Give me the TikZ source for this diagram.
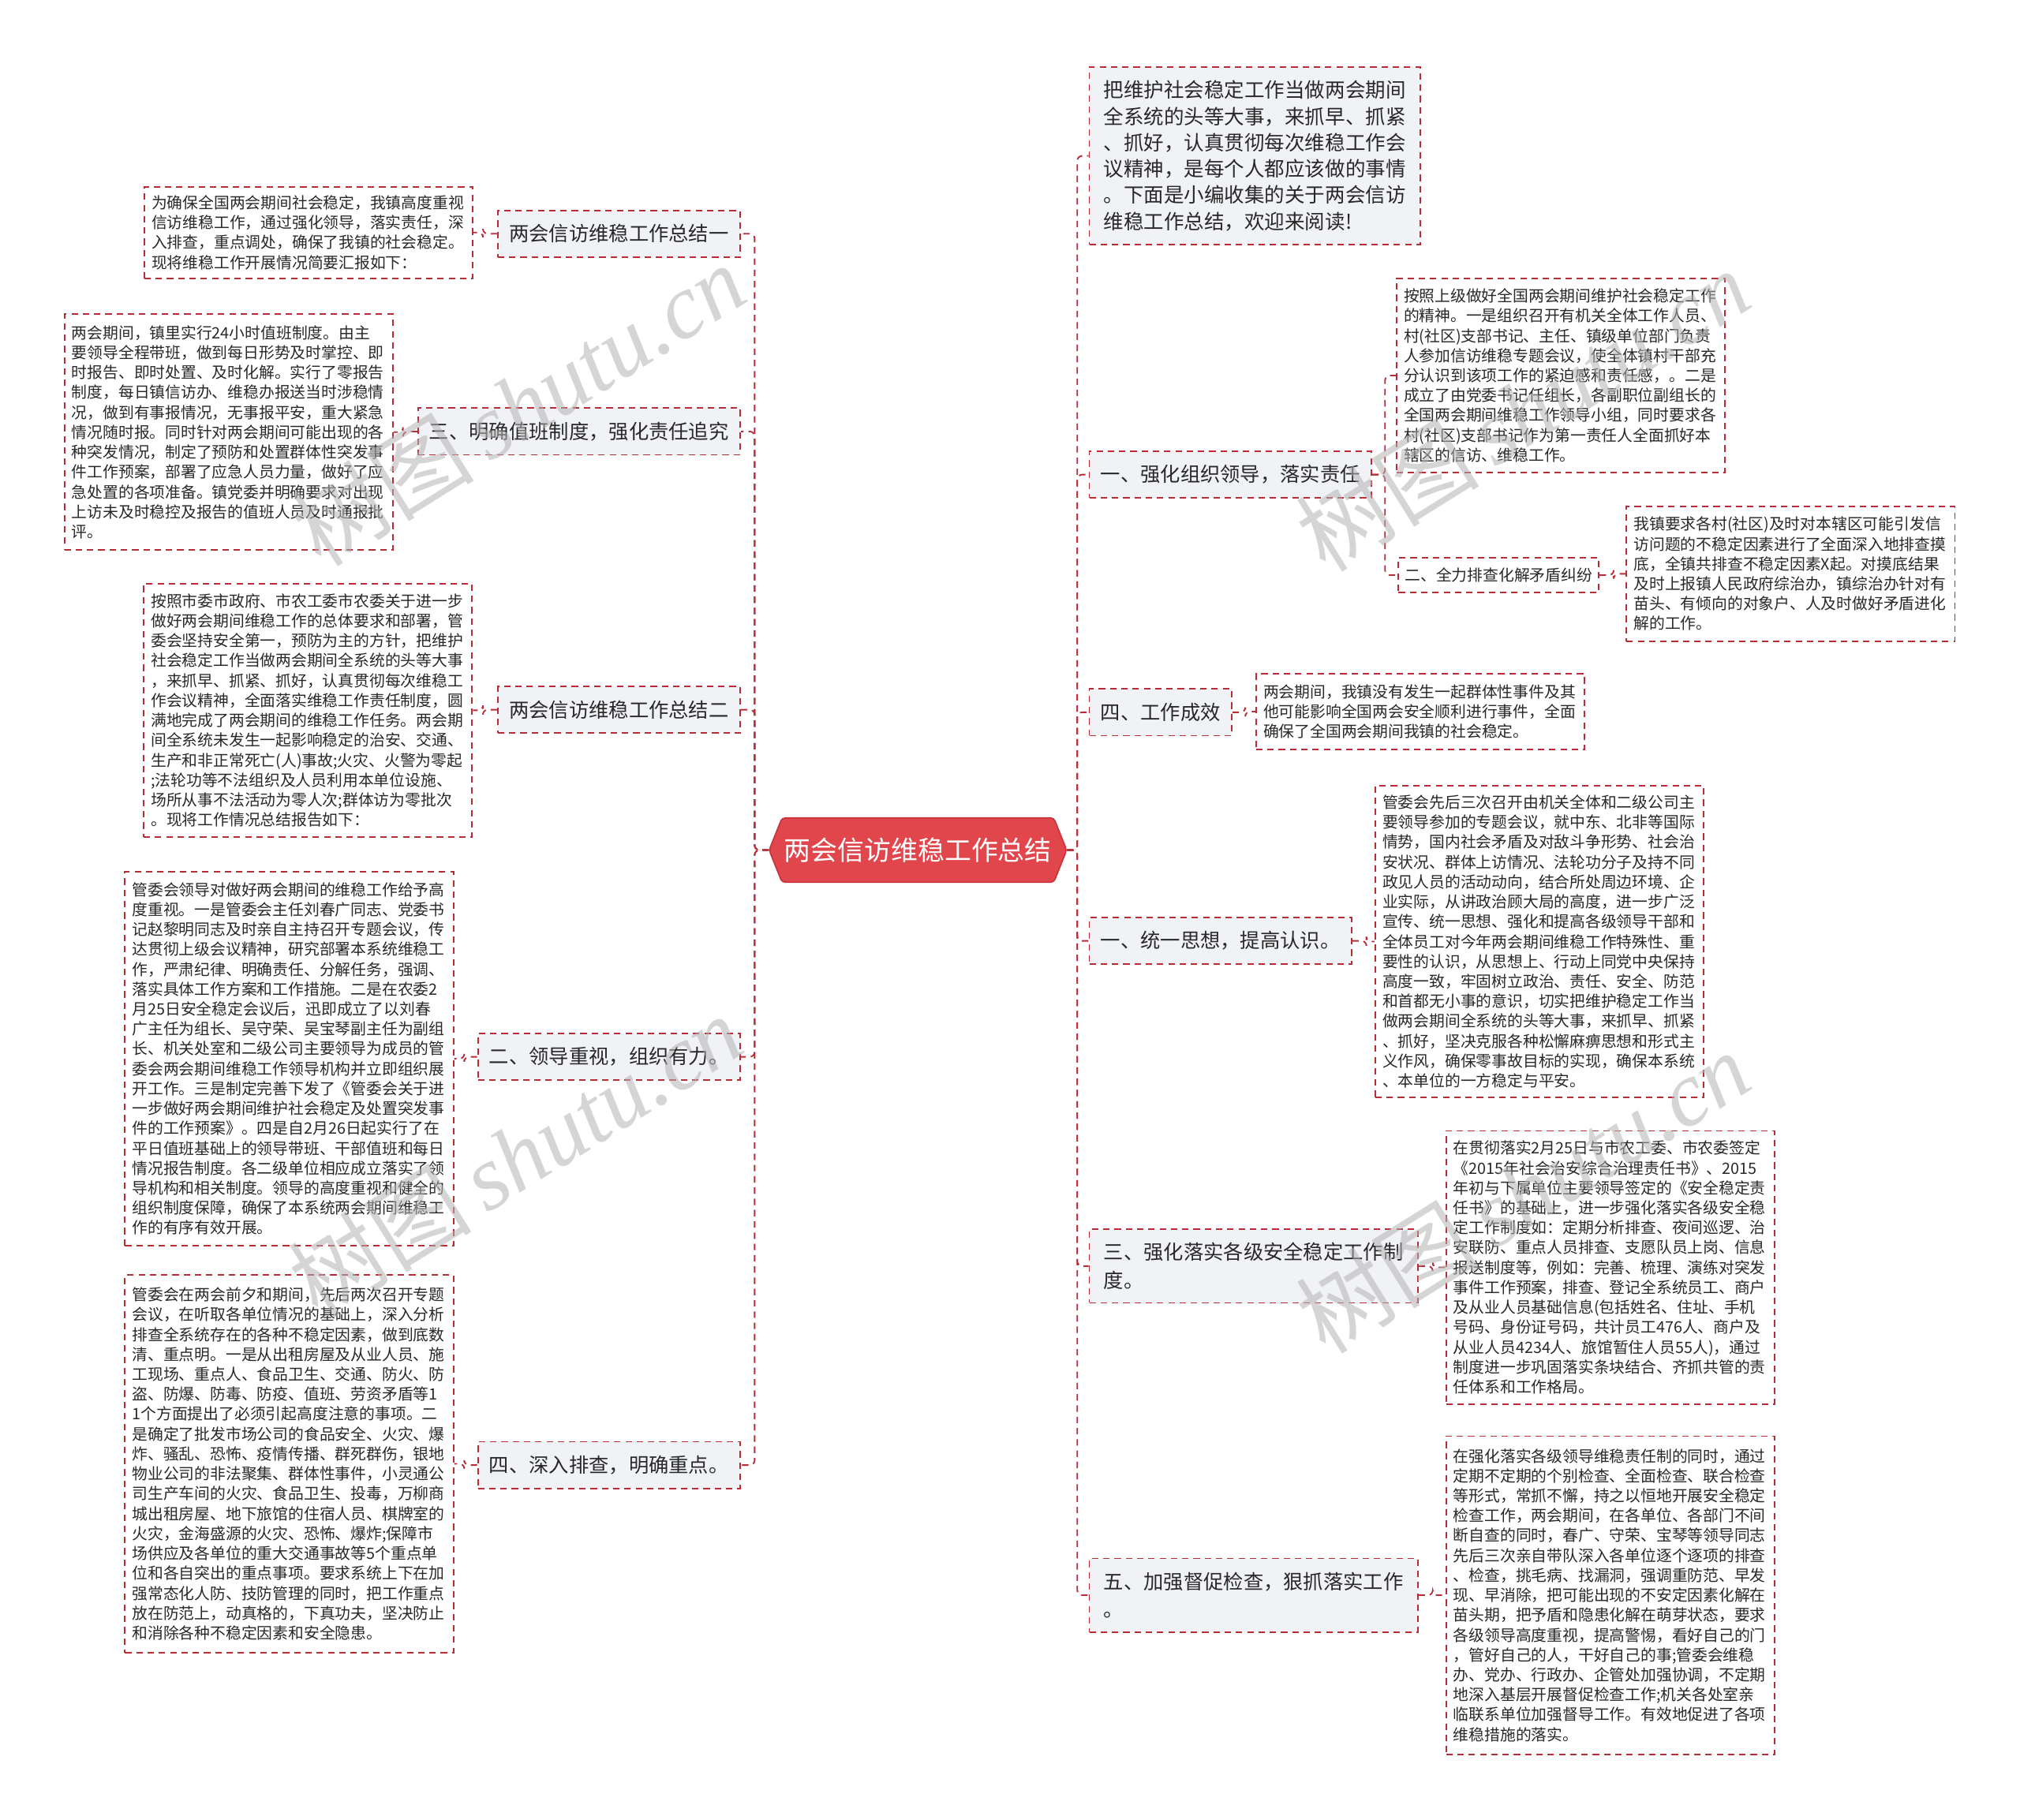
\documentclass[tikz,border=0pt]{standalone}
\usepackage{fontspec}
\setmainfont{Noto Sans CJK SC}
\newfontfamily\wmlatin{Liberation Serif}
\usetikzlibrary{calc}
\definecolor{linered}{RGB}{184,44,56}
\definecolor{boxgray}{RGB}{240,242,245}
\definecolor{centerred}{RGB}{226,70,77}
\definecolor{centeredge}{RGB}{200,50,60}
\definecolor{txt}{RGB}{40,40,40}
\definecolor{wmgray}{RGB}{180,180,180}
\begin{document}
\begin{tikzpicture}[x=0.8pt,y=-0.8pt,
  conn/.style={draw=linered, line width=0.9pt, dash pattern=on 4pt off 3pt, rounded corners=3pt},
  lvl/.style={draw=linered, fill=boxgray, line width=0.9pt, dash pattern=on 4pt off 3pt, text=txt, align=left, font=\fontsize{12.4}{17.6}\selectfont, inner xsep=7pt, inner ysep=4pt, minimum height=29pt},
  detail/.style={draw=linered, fill=white, line width=0.9pt, dash pattern=on 4pt off 3pt, text=txt, align=left, font=\fontsize{9.7}{12.36}\selectfont, text width=195pt, inner xsep=4.5pt, inner ysep=4pt},
  wm/.style={text=wmgray, opacity=0.55, rotate=32, font=\fontsize{57}{57}\selectfont, inner sep=0pt}
]
\useasboundingbox[fill=white] (0,0) rectangle (1568,1413);

% central topic
\filldraw[fill=centerred, draw=centeredge, line width=0.8pt, rounded corners=2pt]
  (597,660) -- (607,635) -- (818,635) -- (828,660) -- (818,685) -- (607,685) -- cycle;
\node[minimum width=184.8pt, minimum height=40pt, inner sep=0pt, text=white, font=\fontsize{16.6}{20}\selectfont] (C) at (712.5,660) {两会信访维稳工作总结};

% left branches
\node[lvl, anchor=east] (L1) at (575,181.5) {两会信访维稳工作总结一};
\node[detail, minimum height=56.8pt] (D1) at (239.5,180.5) {为确保全国两会期间社会稳定，我镇高度重视\\信访维稳工作，通过强化领导，落实责任，深\\入排查，重点调处，确保了我镇的社会稳定。\\现将维稳工作开展情况简要汇报如下：};

\node[lvl, anchor=east] (L2) at (575,335) {三、明确值班制度，强化责任追究};
\node[detail, minimum height=146.4pt] (D2) at (177.5,335.5) {两会期间，镇里实行24小时值班制度。由主\\要领导全程带班，做到每日形势及时掌控、即\\时报告、即时处置、及时化解。实行了零报告\\制度，每日镇信访办、维稳办报送当时涉稳情\\况，做到有事报情况，无事报平安，重大紧急\\情况随时报。同时针对两会期间可能出现的各\\种突发情况，制定了预防和处置群体性突发事\\件工作预案，部署了应急人员力量，做好了应\\急处置的各项准备。镇党委并明确要求对出现\\上访未及时稳控及报告的值班人员及时通报批\\评。};

\node[lvl, anchor=east] (L3) at (575,551) {两会信访维稳工作总结二};
\node[detail, minimum height=157.6pt] (D3) at (239,551.5) {按照市委市政府、市农工委市农委关于进一步\\做好两会期间维稳工作的总体要求和部署，管\\委会坚持安全第一，预防为主的方针，把维护\\社会稳定工作当做两会期间全系统的头等大事\\，来抓早、抓紧、抓好，认真贯彻每次维稳工\\作会议精神，全面落实维稳工作责任制度，圆\\满地完成了两会期间的维稳工作任务。两会期\\间全系统未发生一起影响稳定的治安、交通、\\生产和非正常死亡(人)事故;火灾、火警为零起\\;法轮功等不法组织及人员利用本单位设施、\\场所从事不法活动为零人次;群体访为零批次\\。现将工作情况总结报告如下：};

\node[lvl, anchor=east] (L4) at (575,820.5) {二、领导重视，组织有力。};
\node[detail, minimum height=232pt] (D4) at (224.5,822) {管委会领导对做好两会期间的维稳工作给予高\\度重视。一是管委会主任刘春广同志、党委书\\记赵黎明同志及时亲自主持召开专题会议，传\\达贯彻上级会议精神，研究部署本系统维稳工\\作，严肃纪律、明确责任、分解任务，强调、\\落实具体工作方案和工作措施。二是在农委2\\月25日安全稳定会议后，迅即成立了以刘春\\广主任为组长、吴守荣、吴宝琴副主任为副组\\长、机关处室和二级公司主要领导为成员的管\\委会两会期间维稳工作领导机构并立即组织展\\开工作。三是制定完善下发了《管委会关于进\\一步做好两会期间维护社会稳定及处置突发事\\件的工作预案》。四是自2月26日起实行了在\\平日值班基础上的领导带班、干部值班和每日\\情况报告制度。各二级单位相应成立落实了领\\导机构和相关制度。领导的高度重视和健全的\\组织制度保障，确保了本系统两会期间维稳工\\作的有序有效开展。};

\node[lvl, anchor=east] (L5) at (575,1137.5) {四、深入排查，明确重点。};
\node[detail, minimum height=234.4pt] (D5) at (224.5,1136.5) {管委会在两会前夕和期间，先后两次召开专题\\会议，在听取各单位情况的基础上，深入分析\\排查全系统存在的各种不稳定因素，做到底数\\清、重点明。一是从出租房屋及从业人员、施\\工现场、重点人、食品卫生、交通、防火、防\\盗、防爆、防毒、防疫、值班、劳资矛盾等1\\1个方面提出了必须引起高度注意的事项。二\\是确定了批发市场公司的食品安全、火灾、爆\\炸、骚乱、恐怖、疫情传播、群死群伤，银地\\物业公司的非法聚集、群体性事件，小灵通公\\司生产车间的火灾、食品卫生、投毒，万柳商\\城出租房屋、地下旅馆的住宿人员、棋牌室的\\火灾，金海盛源的火灾、恐怖、爆炸;保障市\\场供应及各单位的重大交通事故等5个重点单\\位和各自突出的重点事项。要求系统上下在加\\强常态化人防、技防管理的同时，把工作重点\\放在防范上，动真格的，下真功夫，坚决防止\\和消除各种不稳定因素和安全隐患。};

% right branches
\node[lvl, anchor=west, font=\fontsize{12.5}{16.3}\selectfont, inner xsep=9pt, minimum height=110.4pt] (R0) at (845,121) {把维护社会稳定工作当做两会期间\\全系统的头等大事，来抓早、抓紧\\、抓好，认真贯彻每次维稳工作会\\议精神，是每个人都应该做的事情\\。下面是小编收集的关于两会信访\\维稳工作总结，欢迎来阅读!};

\node[lvl, anchor=west] (R1) at (845,368.5) {一、强化组织领导，落实责任};
\node[detail, minimum height=120.8pt] (R1a) at (1211.5,291.5) {按照上级做好全国两会期间维护社会稳定工作\\的精神。一是组织召开有机关全体工作人员、\\村(社区)支部书记、主任、镇级单位部门负责\\人参加信访维稳专题会议，使全体镇村干部充\\分认识到该项工作的紧迫感和责任感，。二是\\成立了由党委书记任组长，各副职位副组长的\\全国两会期间维稳工作领导小组，同时要求各\\村(社区)支部书记作为第一责任人全面抓好本\\辖区的信访、维稳工作。};
\node[lvl, anchor=west, font=\fontsize{9.7}{12}\selectfont, inner xsep=4pt, minimum height=21.6pt, fill=white] (R1b) at (1085,446.5) {二、全力排查化解矛盾纠纷};
\node[detail, minimum height=84pt] (R1c) at (1390,445.5) {我镇要求各村(社区)及时对本辖区可能引发信\\访问题的不稳定因素进行了全面深入地排查摸\\底，全镇共排查不稳定因素X起。对摸底结果\\及时上报镇人民政府综治办，镇综治办针对有\\苗头、有倾向的对象户、人及时做好矛盾进化\\解的工作。};

\node[lvl, anchor=west] (R2) at (845,553) {四、工作成效};
\node[detail, minimum height=47.2pt] (R2d) at (1102.5,552.5) {两会期间，我镇没有发生一起群体性事件及其\\他可能影响全国两会安全顺利进行事件，全面\\确保了全国两会期间我镇的社会稳定。};

\node[lvl, anchor=west] (R3) at (845,730.5) {一、统一思想，提高认识。};
\node[detail, minimum height=193.6pt] (R3d) at (1195,731) {管委会先后三次召开由机关全体和二级公司主\\要领导参加的专题会议，就中东、北非等国际\\情势，国内社会矛盾及对敌斗争形势、社会治\\安状况、群体上访情况、法轮功分子及持不同\\政见人员的活动动向，结合所处周边环境、企\\业实际，从讲政治顾大局的高度，进一步广泛\\宣传、统一思想、强化和提高各级领导干部和\\全体员工对今年两会期间维稳工作特殊性、重\\要性的认识，从思想上、行动上同党中央保持\\高度一致，牢固树立政治、责任、安全、防范\\和首都无小事的意识，切实把维护稳定工作当\\做两会期间全系统的头等大事，来抓早、抓紧\\、抓好，坚决克服各种松懈麻痹思想和形式主\\义作风，确保零事故目标的实现，确保本系统\\、本单位的一方稳定与平安。};

\node[lvl, anchor=west, minimum width=204pt, minimum height=45.6pt] (R4) at (845,983) {三、强化落实各级安全稳定工作制\\度。};
\node[detail, minimum height=169.6pt] (R4d) at (1250,984) {在贯彻落实2月25日与市农工委、市农委签定\\《2015年社会治安综合治理责任书》、2015\\年初与下属单位主要领导签定的《安全稳定责\\任书》的基础上，进一步强化落实各级安全稳\\定工作制度如：定期分析排查、夜间巡逻、治\\安联防、重点人员排查、支愿队员上岗、信息\\报送制度等，例如：完善、梳理、演练对突发\\事件工作预案，排查、登记全系统员工、商户\\及从业人员基础信息(包括姓名、住址、手机\\号码、身份证号码，共计员工476人、商户及\\从业人员4234人、旅馆暂住人员55人)，通过\\制度进一步巩固落实条块结合、齐抓共管的责\\任体系和工作格局。};

\node[lvl, anchor=west, minimum width=204pt, minimum height=45.6pt] (R5) at (845,1238.5) {五、加强督促检查，狠抓落实工作\\。};
\node[detail, minimum height=197.6pt] (R5d) at (1250,1238.5) {在强化落实各级领导维稳责任制的同时，通过\\定期不定期的个别检查、全面检查、联合检查\\等形式，常抓不懈，持之以恒地开展安全稳定\\检查工作，两会期间，在各单位、各部门不间\\断自查的同时，春广、守荣、宝琴等领导同志\\先后三次亲自带队深入各单位逐个逐项的排查\\、检查，挑毛病、找漏洞，强调重防范、早发\\现、早消除，把可能出现的不安定因素化解在\\苗头期，把予盾和隐患化解在萌芽状态，要求\\各级领导高度重视，提高警惕，看好自己的门\\，管好自己的人，干好自己的事;管委会维稳\\办、党办、行政办、企管处加强协调，不定期\\地深入基层开展督促检查工作;机关各处室亲\\临联系单位加强督导工作。有效地促进了各项\\维稳措施的落实。};

% connectors
\foreach \n in {L1,L2,L3,L4,L5} \draw[conn] (C.west) -- ++(-11,0) |- (\n.east);
\foreach \n in {R0,R1,R2,R3,R4,R5} \draw[conn] (C.east) -- ++(8,0) |- (\n.west);
\draw[conn] (L1.west) -- ++(-11,0) |- (D1.east);
\draw[conn] (L2.west) -- ++(-11,0) |- (D2.east);
\draw[conn] (L3.west) -- ++(-11,0) |- (D3.east);
\draw[conn] (L4.west) -- ++(-10,0) |- (D4.east);
\draw[conn] (L5.west) -- ++(-10,0) |- (D5.east);
\draw[conn] (R1.east) -- ++(10,0) |- (R1a.west);
\draw[conn] (R1.east) -- ++(10,0) |- (R1b.west);
\draw[conn] (R1b.east) -- ++(11,0) |- (R1c.west);
\draw[conn] (R2.east) -- ++(10,0) |- (R2d.west);
\draw[conn] (R3.east) -- ++(11,0) |- (R3d.west);
\draw[conn] (R4.east) -- ++(11,0) |- (R4d.west);
\draw[conn] (R5.east) -- ++(11,0) |- (R5d.west);

% watermarks
\node[wm] (wm1) at (402,314) {树图\,{\wmlatin\itshape shutu.cn}};
\node[wm] (wm2) at (400,897) {树图\,{\wmlatin\itshape shutu.cn}};
\node[wm] (wm3) at (1182,318) {树图\,{\wmlatin\itshape shutu.cn}};
\node[wm] (wm4) at (1182,925) {树图\,{\wmlatin\itshape shutu.cn}};
\end{tikzpicture}
\end{document}
